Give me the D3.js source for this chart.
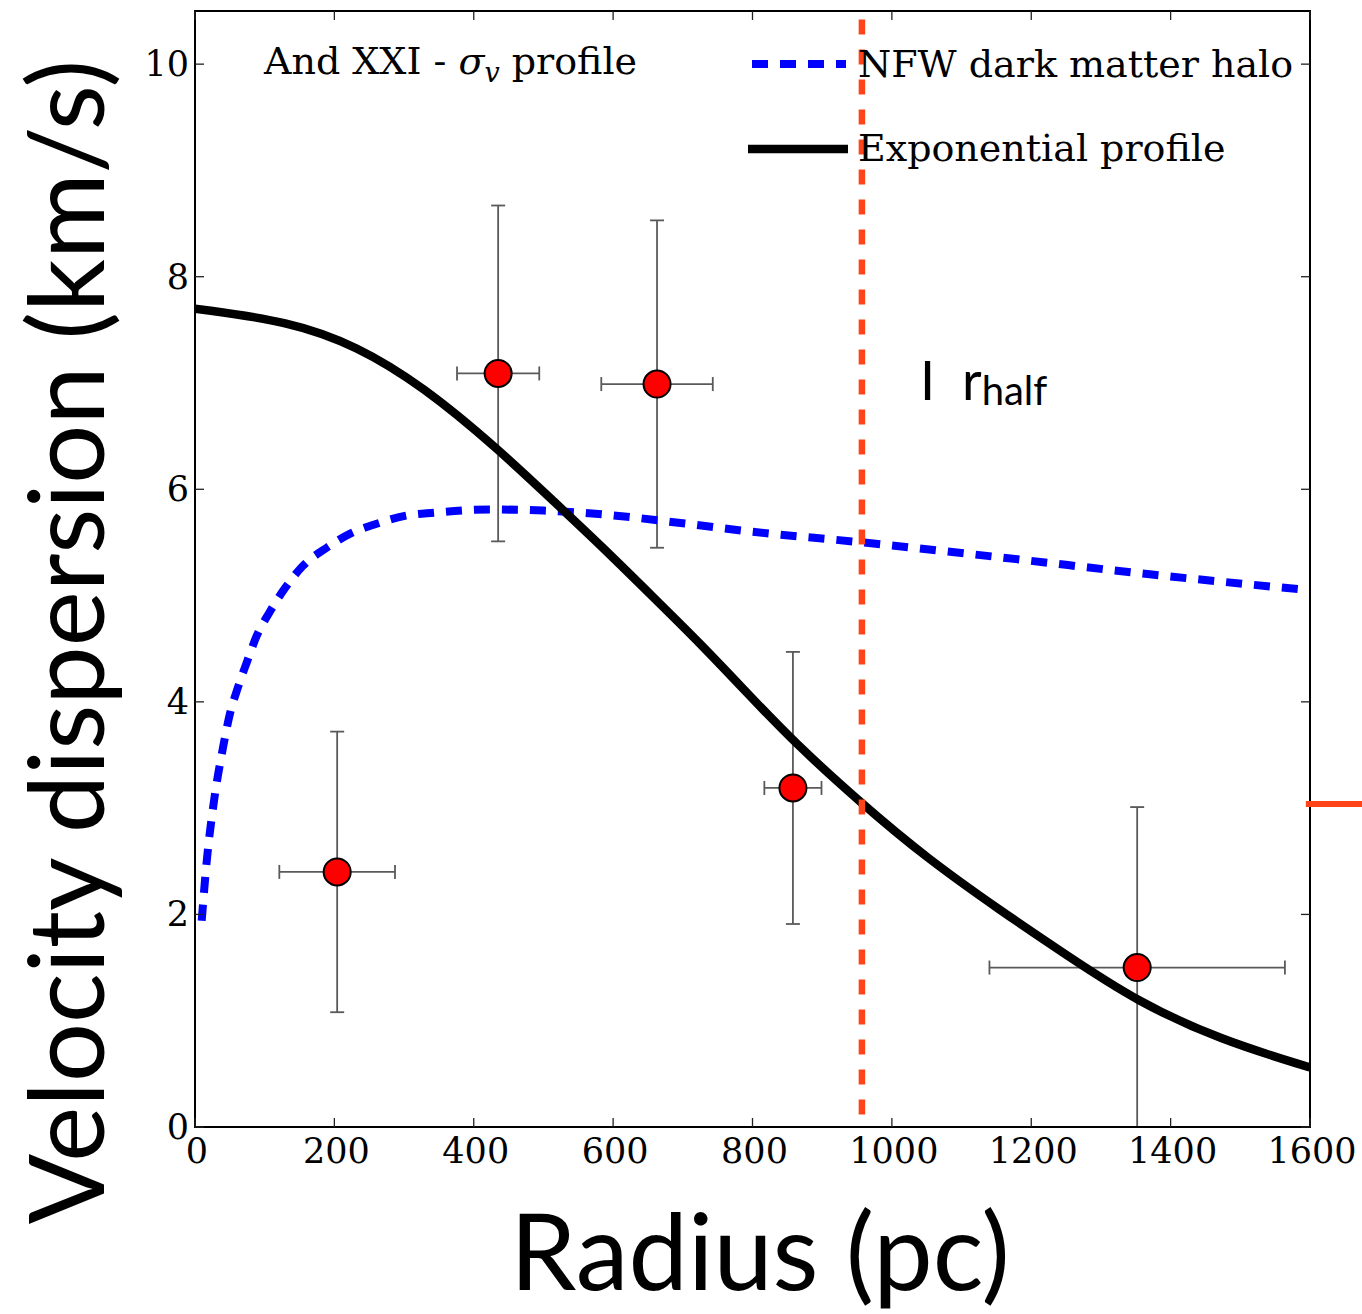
<!DOCTYPE html>
<html>
<head>
<meta charset="utf-8">
<script src="https://cdn.jsdelivr.net/npm/d3@7"></script>
<style>
  html, body { margin: 0; padding: 0; background: #fff; }
  svg { display: block; }
</style>
</head>
<body>
<svg id="chart" width="1362" height="1314"></svg>
<script>
// ---------------- DATA ----------------
const xTicks = [0, 200, 400, 600, 800, 1000, 1200, 1400, 1600];
const yTicks = [0, 2, 4, 6, 8, 10];

// measured velocity dispersion bins: radius (pc), sigma (km/s), errors
const binRadius = [204, 435, 663, 858, 1352];
const binSigma  = [2.40, 7.09, 6.99, 3.19, 1.50];
const binRadErr = [83, 59, 80, 41, 212];
const binSigErr = [1.32, 1.58, 1.54, 1.28, 1.51];

// NFW dark matter halo model (radius pc, sigma km/s)
const nfwRadius = [9.6, 16.8, 27.3, 40.2, 50.2, 61.3, 74.2, 88.5, 107.6, 129.1, 155, 189, 222, 263, 301, 344, 423, 500, 591, 700, 800, 958, 1155, 1370, 1600];
const nfwSigma  = [1.94, 2.50, 3.07, 3.57, 3.89, 4.13, 4.37, 4.62, 4.85, 5.07, 5.28, 5.45, 5.58, 5.68, 5.75, 5.78, 5.81, 5.80, 5.76, 5.68, 5.60, 5.50, 5.36, 5.20, 5.05];

// Exponential profile model
const expRadius = [0, 136, 232, 327, 435, 519, 581, 660, 725, 790, 858, 957, 1050, 1155, 1250, 1352, 1471, 1600];
const expSigma  = [7.70, 7.58, 7.35, 6.97, 6.38, 5.86, 5.48, 4.97, 4.55, 4.10, 3.63, 3.04, 2.53, 2.04, 1.62, 1.18, 0.82, 0.56];

// half-light radius marker
const rHalf = 957;
const rHalfSideMark = { r0: 1594, r1: 1700, sigma: 3.04 };

const legendLabels = ["NFW dark matter halo", "Exponential profile"];

// ---------------- LAYOUT ----------------
const svg = d3.select("#chart");
const W = 1362, H = 1314;
svg.append("rect").attr("width", W).attr("height", H).attr("fill", "#fff");

const x = d3.scaleLinear().domain([0, 1600]).range([195, 1310]);
const y = d3.scaleLinear().domain([0, 10.5]).range([1127, 11]);

const serif = "'DejaVu Serif', serif";
const sans = "Lato, 'Open Sans', sans-serif";

svg.append("defs").append("clipPath").attr("id", "plotclip")
  .append("rect")
  .attr("x", x(0)).attr("y", y(10.5))
  .attr("width", x(1600) - x(0)).attr("height", y(0) - y(10.5));

const plot = svg.append("g").attr("clip-path", "url(#plotclip)");

// ---------------- ERROR BARS & POINTS ----------------
const errColor = "#5a5a5a";
const cap = 7;
binRadius.forEach((r, i) => {
  const s = binSigma[i], dx = binRadErr[i], dy = binSigErr[i];
  const g = plot.append("g").attr("stroke", errColor).attr("stroke-width", 1.8).attr("fill", "none");
  g.append("line").attr("x1", x(r)).attr("x2", x(r)).attr("y1", y(s + dy)).attr("y2", y(s - dy));
  g.append("line").attr("x1", x(r) - cap).attr("x2", x(r) + cap).attr("y1", y(s + dy)).attr("y2", y(s + dy));
  g.append("line").attr("x1", x(r) - cap).attr("x2", x(r) + cap).attr("y1", y(s - dy)).attr("y2", y(s - dy));
  g.append("line").attr("x1", x(r - dx)).attr("x2", x(r + dx)).attr("y1", y(s)).attr("y2", y(s));
  g.append("line").attr("x1", x(r - dx)).attr("x2", x(r - dx)).attr("y1", y(s) - cap).attr("y2", y(s) + cap);
  g.append("line").attr("x1", x(r + dx)).attr("x2", x(r + dx)).attr("y1", y(s) - cap).attr("y2", y(s) + cap);
});
plot.selectAll("circle.pt").data(binRadius).join("circle")
  .attr("class", "pt")
  .attr("cx", d => x(d)).attr("cy", (d, i) => y(binSigma[i]))
  .attr("r", 13.5)
  .attr("fill", "#ff0000").attr("stroke", "#000").attr("stroke-width", 2);

// ---------------- MODEL CURVES ----------------
const lineNfw = d3.line().x(d => x(d[0])).y(d => y(d[1])).curve(d3.curveMonotoneX);
const lineExp = d3.line().x(d => x(d[0])).y(d => y(d[1])).curve(d3.curveBasis);

plot.append("path")
  .attr("d", lineNfw(nfwRadius.map((r, i) => [r, nfwSigma[i]])))
  .attr("fill", "none").attr("stroke", "#0000ff").attr("stroke-width", 8)
  .attr("stroke-dasharray", "16,12");

plot.append("path")
  .attr("d", lineExp(expRadius.map((r, i) => [r, expSigma[i]])))
  .attr("fill", "none").attr("stroke", "#000").attr("stroke-width", 8.5);

// r_half vertical line
const orange = "#ff4419";
plot.append("line")
  .attr("x1", x(rHalf)).attr("x2", x(rHalf))
  .attr("y1", y(10.42)).attr("y2", y(0.08))
  .attr("stroke", orange).attr("stroke-width", 6.5)
  .attr("stroke-dasharray", "15,15");

// ---------------- FRAME & TICKS ----------------
const frame = svg.append("g");
frame.append("rect")
  .attr("x", x(0)).attr("y", y(10.5))
  .attr("width", x(1600) - x(0)).attr("height", y(0) - y(10.5))
  .attr("fill", "none").attr("stroke", "#000").attr("stroke-width", 2);

const tl = 9;
const tickG = frame.append("g").attr("stroke", "#222").attr("stroke-width", 1.3);
xTicks.forEach(t => {
  tickG.append("line").attr("x1", x(t)).attr("x2", x(t)).attr("y1", y(0)).attr("y2", y(0) - tl);
  tickG.append("line").attr("x1", x(t)).attr("x2", x(t)).attr("y1", y(10.5)).attr("y2", y(10.5) + tl);
});
yTicks.forEach(t => {
  tickG.append("line").attr("x1", x(0)).attr("x2", x(0) + tl).attr("y1", y(t)).attr("y2", y(t));
  tickG.append("line").attr("x1", x(1600)).attr("x2", x(1600) - tl).attr("y1", y(t)).attr("y2", y(t));
});

// tick labels
svg.append("g").selectAll("text").data(xTicks).join("text")
  .attr("x", d => x(d) + 2).attr("y", y(0) + 36)
  .attr("text-anchor", "middle")
  .attr("font-family", serif).attr("font-size", 35).attr("fill", "#000")
  .text(d => d);
svg.append("g").selectAll("text").data(yTicks).join("text")
  .attr("x", x(0) - 6).attr("y", d => y(d) + 12)
  .attr("text-anchor", "end")
  .attr("font-family", serif).attr("font-size", 35).attr("fill", "#000")
  .text(d => d);

// side marker beyond the right axis
svg.append("line")
  .attr("x1", x(rHalfSideMark.r0)).attr("x2", x(rHalfSideMark.r1))
  .attr("y1", y(rHalfSideMark.sigma)).attr("y2", y(rHalfSideMark.sigma))
  .attr("stroke", orange).attr("stroke-width", 6);

// ---------------- TEXT ----------------
const title = svg.append("text")
  .attr("x", 264).attr("y", 74)
  .attr("font-family", serif).attr("font-size", 38).attr("fill", "#000");
title.append("tspan").text("And XXI - ");
title.append("tspan").attr("font-style", "italic").text("σ");
title.append("tspan").attr("font-style", "italic").attr("font-size", 27).attr("dy", 8).text("v");
title.append("tspan").attr("dy", -8).text(" profile");

// legend
const leg = svg.append("g");
leg.append("line").attr("x1", 752).attr("x2", 846).attr("y1", 64).attr("y2", 64)
  .attr("stroke", "#0000ff").attr("stroke-width", 8).attr("stroke-dasharray", "16,12");
leg.append("line").attr("x1", 748).attr("x2", 848).attr("y1", 149).attr("y2", 149)
  .attr("stroke", "#000").attr("stroke-width", 8.5);
leg.append("text").attr("x", 858).attr("y", 77)
  .attr("font-family", serif).attr("font-size", 38).attr("fill", "#000").text(legendLabels[0]);
leg.append("text").attr("x", 858).attr("y", 161)
  .attr("font-family", serif).attr("font-size", 38).attr("fill", "#000").text(legendLabels[1]);

// r_half annotation
const rh = svg.append("text").attr("x", 920).attr("y", 400)
  .attr("font-family", sans).attr("font-size", 54).attr("fill", "#000");
rh.append("tspan").text("I");
rh.append("tspan").attr("x", 962).text("r");
rh.append("tspan").attr("font-size", 40).attr("dy", 5).text("half");

// axis labels
function fitText(sel, target) {
  const w = sel.node().getComputedTextLength();
  const fs = parseFloat(sel.attr("font-size"));
  sel.attr("font-size", fs * target / w);
}
const xl = svg.append("text")
  .attr("x", 760).attr("y", 1290).attr("text-anchor", "middle")
  .attr("font-family", sans).attr("font-size", 115).attr("fill", "#000")
  .text("Radius (pc)");
fitText(xl, 500);

const yl = svg.append("text")
  .attr("transform", "translate(104,642) rotate(-90)")
  .attr("text-anchor", "middle")
  .attr("font-family", sans).attr("font-size", 115).attr("fill", "#000")
  .text("Velocity dispersion (km/s)");
fitText(yl, 1165);
</script>
</body>
</html>
